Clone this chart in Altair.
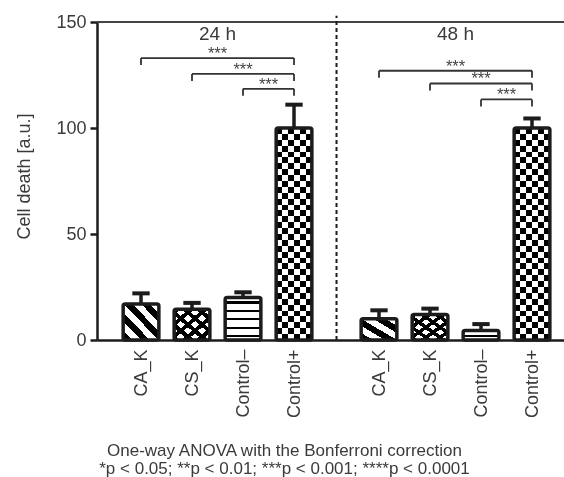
import math
import altair as alt
import pandas as pd

# ---------------- data ----------------
categories = ["CA_K", "CS_K", "Control–", "Control+"]
time_points = ["24 h", "48 h"]
mean_24h = [17.0, 14.5, 20.0, 100.0]
sem_24h = [5.0, 3.0, 2.5, 11.0]
mean_48h = [10.0, 12.0, 4.5, 100.0]
sem_48h = [4.0, 2.8, 3.0, 4.5]
compared = ["CA_K", "CS_K", "Control–"]
reference_group = "Control+"
bracket_24h = [133.0, 125.5, 118.5]
bracket_48h = [127.0, 121.0, 113.5]
stars = ["***", "***", "***"]
y_ticks = [0, 50, 100, 150]
y_title = "Cell death [a.u.]"
footnote = ["One-way ANOVA with the Bonferroni correction",
            "*p < 0.05; **p < 0.01; ***p < 0.001; ****p < 0.0001"]

# ---------------- layout / style ----------------
W, H = 467, 318
GAP = 2 / 3
Y_MAX = 150
X_MIN, X_MAX = -0.863, 8.294
BAR_HALF = 0.35
CAP_HALF = 0.17
TICK_DROP = 3.3
LABEL_Y = 144.5
DIVIDER_TOP = 153
INK = "#1c1c1c"
TEXT = "#3a3a3a"
FONT = "Liberation Sans"
PX_X = W / (X_MAX - X_MIN)
PX_Y = H / Y_MAX


def pos(g, i):
    return i + g * (len(categories) + GAP)


rows = []
for g, (t, means, sems) in enumerate(zip(time_points, [mean_24h, mean_48h], [sem_24h, sem_48h])):
    for i, (c, m, s) in enumerate(zip(categories, means, sems)):
        p = pos(g, i)
        rows.append(dict(time=t, cat=c, pos=p, x1=p - BAR_HALF, x2=p + BAR_HALF,
                         base=0.0, mean=m, top=m + s, c1=p - CAP_HALF, c2=p + CAP_HALF))
bars = pd.DataFrame(rows)

brow = []
for g, (t, hs) in enumerate(zip(time_points, [bracket_24h, bracket_48h])):
    right = pos(g, categories.index(reference_group))
    for c, h, s in zip(compared, hs, stars):
        left = pos(g, categories.index(c))
        brow.append(dict(time=t, xl=left, xr=right, xm=(left + right) / 2, h=h, lo=h - TICK_DROP, label=s))
brackets = pd.DataFrame(brow)

groups = pd.DataFrame([dict(time=t, xc=(pos(g, 0) + pos(g, len(categories) - 1)) / 2, y=LABEL_Y)
                       for g, t in enumerate(time_points)])
divider = pd.DataFrame([dict(x=(pos(0, len(categories) - 1) + pos(1, 0)) / 2, y0=0.0, y1=DIVIDER_TOP)])
topline = pd.DataFrame(dict(v=[Y_MAX]))

# ---------------- scales / axes ----------------
xs = alt.Scale(domain=[X_MIN, X_MAX], nice=False, zero=False)
ys = alt.Scale(domain=[0, Y_MAX], nice=False)
cats_js = "[" + ",".join("'" + c + "'" for c in categories) + "]"
off = len(categories) + GAP
label_expr = f"{cats_js}[round(datum.value < {off - 0.5} ? datum.value : datum.value - {off})]"
x_axis = alt.Axis(values=[pos(g, i) for g in range(2) for i in range(len(categories))],
                  labelExpr=label_expr, labelAngle=270, labelAlign="right", labelBaseline="middle",
                  ticks=False, grid=False, domainColor=INK, domainWidth=2.5, labelFontSize=18,
                  labelColor=TEXT, labelPadding=9, labelFont=FONT, title=None)
y_axis = alt.Axis(values=y_ticks, grid=False, domainColor=INK, domainWidth=2.5, tickColor=INK,
                  tickWidth=2.5, tickSize=7, labelFontSize=18, labelColor=TEXT, labelPadding=4,
                  labelFont=FONT, title=y_title, titleFontSize=18, titleFontWeight="normal",
                  titleColor=TEXT, titleFont=FONT, titleX=-73, titleY=154, titleAngle=270,
                  titleAlign="center", titleBaseline="middle")


def X(f):
    return alt.X(f"{f}:Q", scale=xs, axis=x_axis)


def Y(f):
    return alt.Y(f"{f}:Q", scale=ys, axis=y_axis)


def stripes(n, on0, on1, vec, on="#000000", offc="#ffffff"):
    stops = []
    for k in range(n):
        a = k / n
        pts = [(offc, a), (offc, a + on0 / n), (on, a + on0 / n), (on, a + on1 / n),
               (offc, a + on1 / n), (offc, (k + 1) / n)]
        for col, o in pts:
            stops.append(alt.GradientStop(color=col, offset=min(1.0, max(0.0, o))))
    x1, y1, x2, y2 = vec
    return alt.LinearGradient(gradient="linear", stops=stops, x1=x1, y1=y1, x2=x2, y2=y2)


DIAG_DOWN = (0, 1, 1, 0)   # stripes like "\"
DIAG_UP = (0, 0, 1, 1)     # stripes like "/"
HORIZ = (0, 0, 0, 1)       # horizontal stripes
VERT = (0, 0, 1, 0)        # vertical stripes

layers = []
bw = 2 * BAR_HALF * PX_X
for k in range(len(bars)):
    r = bars.iloc[[k]]
    cat = r["cat"].iloc[0]
    hpx = r["mean"].iloc[0] * PX_Y
    diag = math.hypot(bw, hpx)
    specs = []
    if cat == categories[0]:
        specs = [(stripes(max(2, round(diag / 12)), 0, 0.5, DIAG_DOWN), None)]
    elif cat == categories[1]:
        n = max(2, round(diag / 9))
        specs = [(stripes(n, 0, 0.42, DIAG_DOWN), None),
                 (stripes(n, 0, 0.42, DIAG_UP), "multiply")]
    elif cat == categories[2]:
        specs = [(stripes(max(1, round(hpx / 8.5)), 0.45, 0.7, HORIZ), None)]
    else:
        specs = [(stripes(3, 0, 0.5, VERT), None),
                 (stripes(max(2, round(hpx / 11.8)), 0, 0.5, HORIZ), "difference")]
    for fill, blend in specs:
        kw = dict(fill=fill, cornerRadius=2)
        if blend:
            kw["blend"] = blend
        layers.append(alt.Chart(r).mark_rect(**kw).encode(
            x=X("x1"), x2="x2", y=Y("base"), y2="mean"))

outline = alt.Chart(bars).mark_rect(fillOpacity=0, fill="#ffffff", stroke=INK, strokeWidth=3.5,
                                    cornerRadius=2).encode(x=X("x1"), x2="x2", y=Y("base"), y2="mean")
stem = alt.Chart(bars).mark_rule(color=INK, strokeWidth=3.5).encode(x=X("pos"), y=Y("mean"), y2="top")
cap = alt.Chart(bars).mark_rule(color=INK, strokeWidth=4).encode(x=X("c1"), x2="c2", y=Y("top"))

b_h = alt.Chart(brackets).mark_rule(color="#333333", strokeWidth=1.8).encode(x=X("xl"), x2="xr", y=Y("h"))
b_l = alt.Chart(brackets).mark_rule(color="#333333", strokeWidth=1.8).encode(x=X("xl"), y=Y("lo"), y2="h")
b_r = alt.Chart(brackets).mark_rule(color="#333333", strokeWidth=1.8).encode(x=X("xr"), y=Y("lo"), y2="h")
b_t = alt.Chart(brackets).mark_text(fontSize=16.5, color="#444444", font=FONT, baseline="alphabetic",
                                    dy=1).encode(x=X("xm"), y=Y("h"), text="label:N")

top_rule = alt.Chart(topline).mark_rule(color="#444444", strokeWidth=2).encode(y=Y("v"))
div_rule = alt.Chart(divider).mark_rule(color=INK, strokeWidth=2, strokeDash=[4, 3]).encode(
    x=X("x"), y=Y("y0"), y2="y1")
grp = alt.Chart(groups).mark_text(fontSize=19, color=TEXT, font=FONT).encode(
    x=X("xc"), y=Y("y"), text="time:N")

chart = alt.layer(top_rule, div_rule, stem, cap, *layers, outline, b_h, b_l, b_r, b_t, grp).properties(
    width=W, height=H,
    autosize=alt.AutoSizeParams(type="none"),
    padding={"left": 97, "top": 22, "right": 0, "bottom": 137},
    title=alt.TitleParams(text=footnote, orient="bottom", anchor="middle", fontSize=17,
                          fontWeight="normal", color=TEXT, font=FONT, offset=25, lineHeight=18.5,
                          dx=-46),
).configure_view(stroke=None).configure(background="white")

chart.save("out.html", embed_options={"renderer": "svg", "actions": False})
